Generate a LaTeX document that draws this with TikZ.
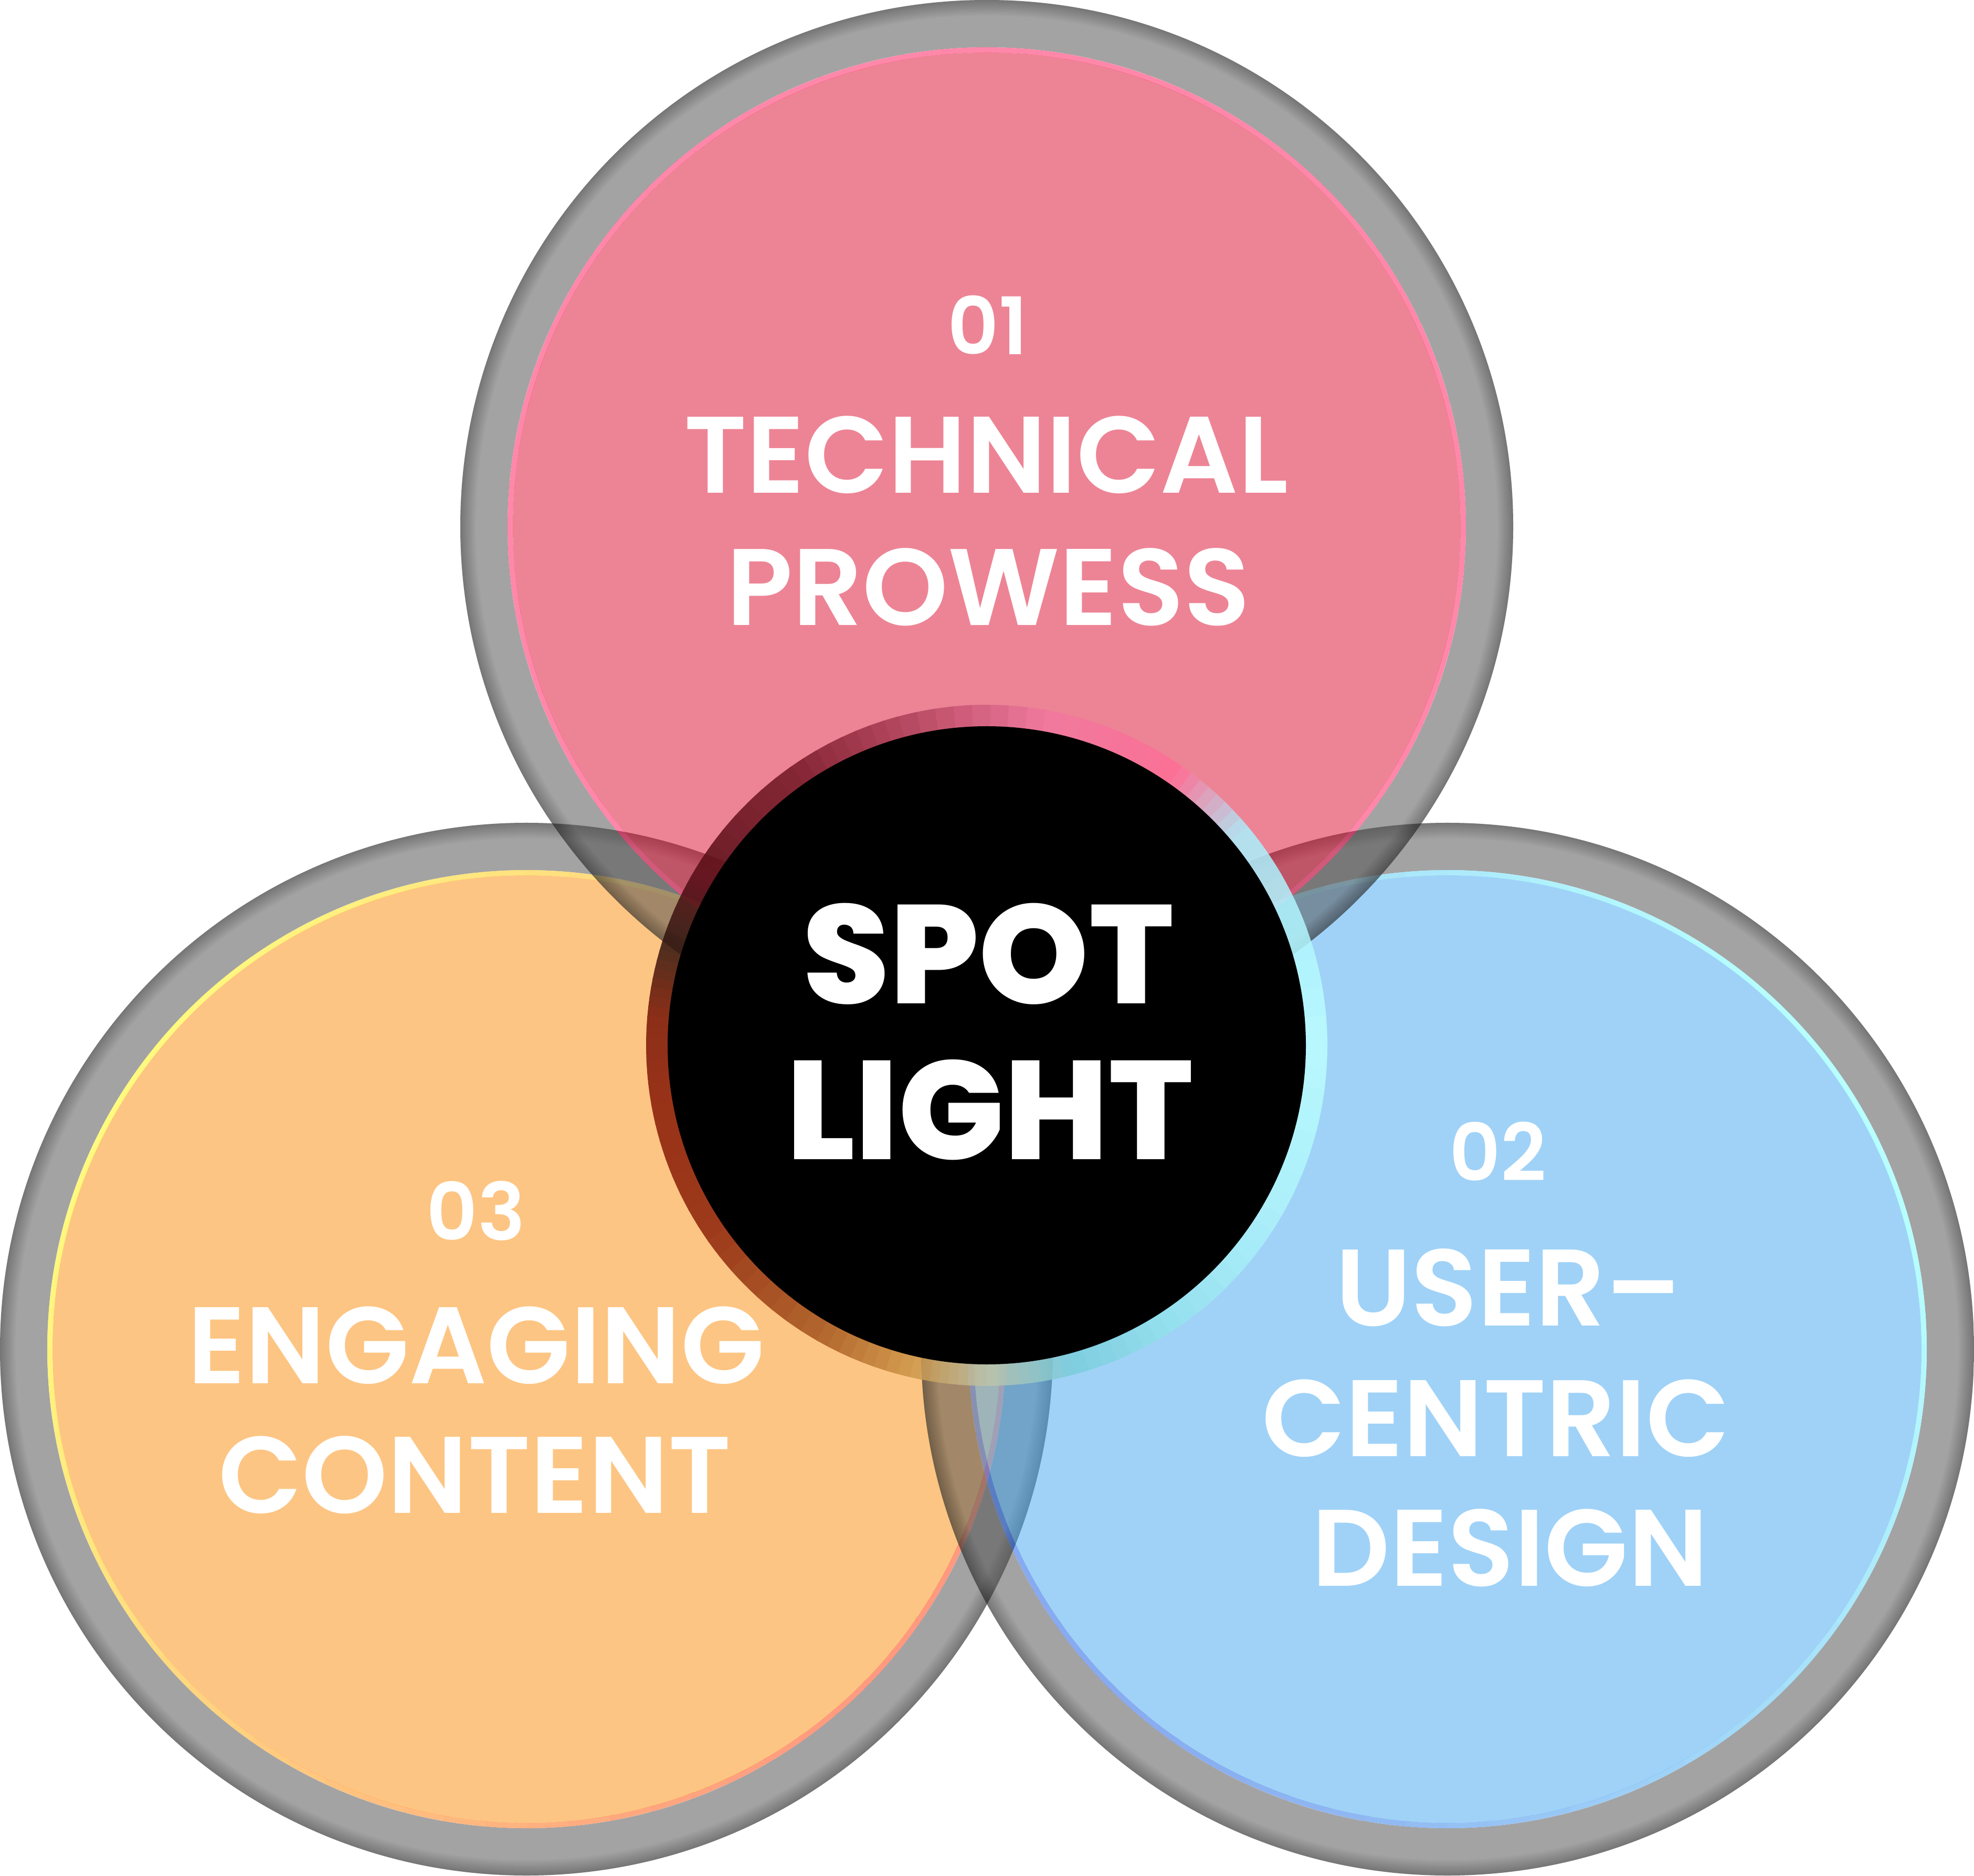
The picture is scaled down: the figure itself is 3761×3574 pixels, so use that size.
\documentclass[tikz,border=0pt]{standalone}
\usepackage{fontspec}
\setmainfont{Poppins}
\newfontfamily\popmed{Poppins SemiBold}
\newfontfamily\popxb{Poppins ExtraBold}
\definecolor{ringgray}{RGB}{82,82,82}
\definecolor{pinkdisk}{RGB}{219,9,43}
\definecolor{orangedisk}{RGB}{251,139,7}
\definecolor{bluedisk}{RGB}{65,165,239}
\definecolor{pinkedge}{RGB}{255,17,85}
\definecolor{yellowedge}{RGB}{255,245,0}
\definecolor{rededge}{RGB}{255,51,1}
\definecolor{cyanedge}{RGB}{113,255,255}
\definecolor{blueedge}{RGB}{17,85,225}
% centre ring key colours
\definecolor{k0}{RGB}{188,255,255}
\definecolor{k1}{RGB}{170,240,255}
\definecolor{k2}{RGB}{255,110,150}
\definecolor{k3}{RGB}{240,120,160}
\definecolor{k4}{RGB}{170,60,85}
\definecolor{k5}{RGB}{115,22,36}
\definecolor{k6}{RGB}{85,12,20}
\definecolor{k7}{RGB}{45,20,15}
\definecolor{k8}{RGB}{120,20,5}
\definecolor{k9}{RGB}{135,25,5}
\definecolor{k10}{RGB}{140,35,10}
\definecolor{k11}{RGB}{165,85,30}
\definecolor{k12}{RGB}{205,150,70}
\definecolor{k13}{RGB}{190,195,170}
\definecolor{k14}{RGB}{120,205,220}
\definecolor{k15}{RGB}{150,228,238}
\definecolor{k16}{RGB}{175,245,252}
\tikzset{
  lbl/.style={text=white, anchor=base, inner sep=0pt, font=\popmed\fontsize{59pt}{59pt}\selectfont},
  numlbl/.style={text=white, anchor=base, inner sep=0pt, font=\popmed\fontsize{43pt}{43pt}\selectfont},
  spotlbl/.style={text=white, anchor=base, inner sep=0pt, font=\popxb\fontsize{76pt}{76pt}\selectfont}
}
% #1 x, #2 y, #3 disk colour, #4 edge colour A, #5 edge colour B, #6 angle of A
\newcommand\venncircle[6]{%
  \fill[ringgray, fill opacity=0.53, even odd rule] (#1,#2) circle[radius=1003] (#1,#2) circle[radius=913];
  \begin{scope}
    \clip (#1,#2) circle[radius=1003];
    \foreach \w in {2,4,...,30}{
      \draw[black, draw opacity=0.02, line width=0.02cm*\w] (#1,#2) circle[radius=1003];
    }
  \end{scope}
  \fill[#3, fill opacity=0.5] (#1,#2) circle[radius=903];
  \begin{scope}[transparency group, opacity=0.5]
    \foreach \i in {0,...,71}{
      \pgfmathsetmacro\s{\i*5}
      \pgfmathsetmacro\e{\s+5.6}
      \pgfmathsetmacro\t{50*(1+cos(\s+2.5-#6))}
      \colorlet{segc}{#4!\t!#5}
      \fill[segc] ([shift={(\s:913)}]#1,#2) arc[start angle=\s, end angle=\e, radius=913]
        -- ([shift={(\e:903)}]#1,#2) arc[start angle=\e, end angle=\s, radius=903] -- cycle;
    }
  \end{scope}
}
\begin{document}
\begin{tikzpicture}[x=0.01cm,y=0.01cm]
\useasboundingbox (0,0) rectangle (3761,3574);
% three circles: orange, blue, pink
\venncircle{1003}{1003}{orangedisk}{yellowedge}{rededge}{150}
\venncircle{2758}{1003}{bluedisk}{cyanedge}{blueedge}{30}
\venncircle{1880}{2571}{pinkdisk}{pinkedge}{pinkedge}{90}
% centre ring
\begin{scope}[transparency group, opacity=0.85]
  \foreach \a/\b/\ca/\cb in {0/40/k0/k1, 40/55/k1/k2, 55/80/k2/k3, 80/105/k3/k4, 105/125/k4/k5,
      125/150/k5/k6, 150/162/k6/k7, 162/175/k7/k8, 175/190/k8/k9, 190/215/k9/k10,
      215/240/k10/k11, 240/257/k11/k12, 257/270/k12/k13, 270/285/k13/k14, 285/305/k14/k15,
      305/330/k15/k16, 330/360/k16/k0}{
    \foreach \i in {0,...,7}{
      \pgfmathsetmacro\s{\a+\i*(\b-\a)/8}
      \pgfmathsetmacro\e{\a+(\i+1)*(\b-\a)/8+0.4}
      \pgfmathsetmacro\t{100-(\i+0.5)*12.5}
      \colorlet{segc}{\ca!\t!\cb}
      \fill[segc] ([shift={(\s:649)}]1880,1582) arc[start angle=\s, end angle=\e, radius=649]
        -- ([shift={(\e:607)}]1880,1582) arc[start angle=\e, end angle=\s, radius=607] -- cycle;
    }
  }
\end{scope}
\fill[black] (1880,1582) circle[radius=608];
% texts
\node[numlbl] (n1) at (1882,2898) {01};
\node[lbl] (t1a) at (1879,2634) {TECHNICAL};
\node[lbl] (t1b) at (1883,2382) {PROWESS};
\node[spotlbl] (s1) at (1883,1662) {SPOT};
\node[spotlbl] (s2) at (1886,1365) {LIGHT};
\node[numlbl] (n2) at (2854,1324) {02};
\node[lbl] (t2a) at (2874,1048) {USER–};
\node[lbl] (t2b) at (2850,799) {CENTRIC};
\node[lbl] (t2c) at (2877,552) {DESIGN};
\node[numlbl] (n3) at (907,1211) {03};
\node[lbl] (t3a) at (907,938) {ENGAGING};
\node[lbl] (t3b) at (905,691) {CONTENT};
\end{tikzpicture}
\end{document}
